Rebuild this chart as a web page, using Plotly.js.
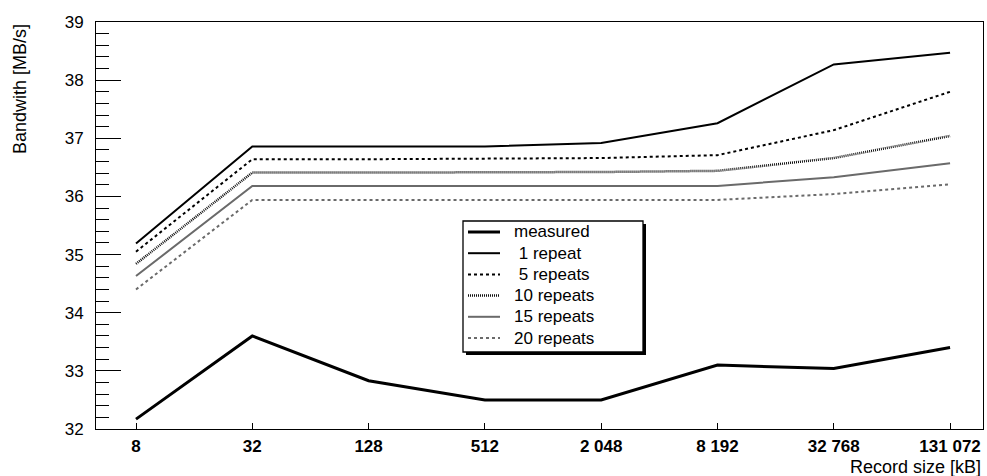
<!DOCTYPE html>
<html>
<head>
<meta charset="utf-8">
<script src="https://cdn.plot.ly/plotly-3.0.1.min.js"></script>
<style>html,body{margin:0;padding:0;background:#fff;}#chart{width:987px;height:476px;}</style>
</head>
<body>
<div id="chart"></div>
<script>
// Record sizes [kB]
const recordSizes = [8, 32, 128, 512, 2048, 8192, 32768, 131072];
const tickLabels = ["8", "32", "128", "512", "2 048", "8 192", "32 768", "131 072"];

// Bandwidth [MB/s]
const measured  = [32.17, 33.60, 32.83, 32.50, 32.50, 33.10, 33.04, 33.40];
const repeat1   = [35.19, 36.86, 36.86, 36.86, 36.92, 37.26, 38.27, 38.47];
const repeats5  = [35.05, 36.64, 36.64, 36.65, 36.66, 36.71, 37.14, 37.80];
const repeats10 = [34.84, 36.41, 36.41, 36.41, 36.42, 36.44, 36.66, 37.04];
const repeats15 = [34.63, 36.18, 36.18, 36.18, 36.18, 36.18, 36.33, 36.57];
const repeats20 = [34.40, 35.94, 35.94, 35.94, 35.94, 35.94, 36.04, 36.21];

const seriesNames = ["measured", "\u00a01 repeat", "\u00a05 repeats", "10 repeats", "15 repeats", "20 repeats"];

const FONT = "Liberation Sans, Arial, sans-serif";

const styles = [
  {color: "#000", width: 3},
  {color: "#000", width: 2},
  {color: "#000", width: 2, dash: "3px,3px"},
  {color: "#111", width: 2.5, dash: "1px,1px"},
  {color: "#6a6a6a", width: 2},
  {color: "#6a6a6a", width: 2, dash: "3px,3px"}
];
const seriesValues = [measured, repeat1, repeats5, repeats10, repeats15, repeats20];

const traces = seriesValues.map((vals, i) => ({
  x: recordSizes, y: vals, name: seriesNames[i], type: "scatter", mode: "lines",
  line: styles[i], showlegend: false
}));

const L = 96, R = 4, T = 22, B = 47;
const W = 987 - L - R, H = 476 - T - B;
const px = p => (p - L) / W;          // pixel x -> paper
const py = p => (476 - B - p) / H;    // pixel y -> paper

// legend box (ROOT-style with shadow), drawn manually
const LG = {x0: 463, x1: 643, y0: 221, y1: 352, first: 232, step: 21.2, lx0: 468, lx1: 500, tx: 512};
const shapes = [
  {type: "rect", xref: "paper", yref: "paper", layer: "above",
   x0: px(LG.x0 + 3), x1: px(LG.x1 + 3), y0: py(LG.y0 + 3), y1: py(LG.y1 + 3),
   fillcolor: "#000", line: {width: 0}},
  {type: "rect", xref: "paper", yref: "paper", layer: "above",
   x0: px(LG.x0), x1: px(LG.x1), y0: py(LG.y0), y1: py(LG.y1),
   fillcolor: "#fff", line: {color: "#000", width: 1.3}}
];
const annotations = [
  {text: "Bandwith [MB/s]", xref: "paper", yref: "paper", x: px(20), y: 1,
   xanchor: "center", yanchor: "top", textangle: -90, showarrow: false,
   font: {family: FONT, size: 18, color: "#000"}},
  {text: "Record size [kB]", xref: "paper", yref: "paper", x: 1, y: py(467),
   xanchor: "right", yanchor: "middle", showarrow: false,
   font: {family: FONT, size: 18, color: "#000"}}
];
seriesNames.forEach((name, i) => {
  const yy = LG.first + i * LG.step;
  shapes.push({type: "line", xref: "paper", yref: "paper", layer: "above",
    x0: px(LG.lx0), x1: px(LG.lx1), y0: py(yy), y1: py(yy), line: styles[i]});
  annotations.push({text: name, xref: "paper", yref: "paper", x: px(LG.tx), y: py(yy),
    xanchor: "left", yanchor: "middle", showarrow: false,
    font: {family: FONT, size: 17, color: "#000"}});
});

const layout = {
  width: 987, height: 476,
  margin: {l: L, r: R, t: T, b: B, pad: 0},
  paper_bgcolor: "#fff", plot_bgcolor: "#fff",
  font: {family: FONT, color: "#000", size: 17},
  showlegend: false,
  xaxis: {
    type: "log",
    range: [0.696, 5.288],
    tickvals: recordSizes, ticktext: tickLabels,
    ticks: "inside", ticklen: 6, tickcolor: "#000", tickwidth: 1,
    showline: true, linecolor: "#000", linewidth: 1, mirror: true,
    showgrid: false, zeroline: false,
    tickfont: {family: FONT, size: 17, color: "#000", weight: "bold"},
    ticklabelstandoff: 2
  },
  yaxis: {
    range: [32, 39], dtick: 1, tick0: 32,
    ticks: "inside", ticklen: 25, tickcolor: "#000", tickwidth: 1,
    minor: {dtick: 0.2, ticks: "inside", ticklen: 13, tickcolor: "#000", tickwidth: 1, showgrid: false},
    showline: true, linecolor: "#000", linewidth: 1, mirror: true,
    showgrid: false, zeroline: false,
    tickfont: {family: FONT, size: 17, color: "#000"},
    ticklabelstandoff: 8
  },
  annotations: annotations,
  shapes: shapes
};

Plotly.newPlot("chart", traces, layout, {displayModeBar: false, staticPlot: true});
</script>
</body>
</html>
